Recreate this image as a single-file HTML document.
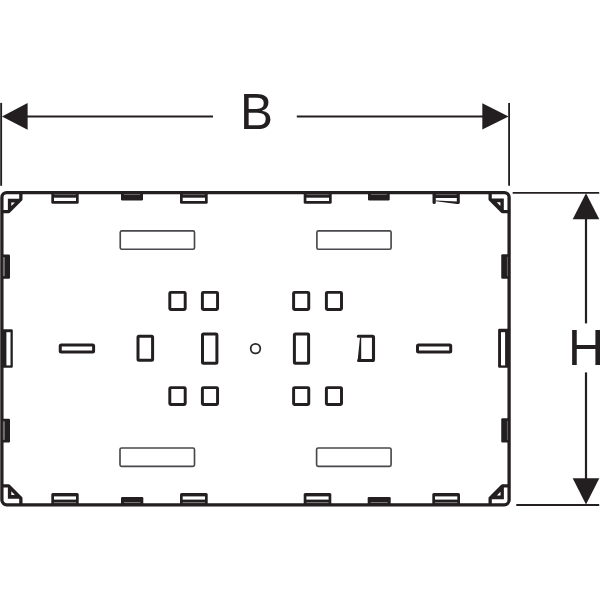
<!DOCTYPE html>
<html><head><meta charset="utf-8"><style>
html,body{margin:0;padding:0;background:#fff;width:600px;height:600px;overflow:hidden}
svg{display:block}
</style></head><body>
<svg width="600" height="600" viewBox="0 0 600 600">
<line x1="1.15" y1="102.9" x2="1.15" y2="185.8" stroke="#231f20" stroke-width="1.9"/>
<line x1="509.1" y1="102.9" x2="509.1" y2="185.8" stroke="#231f20" stroke-width="1.85"/>
<line x1="27" y1="116.4" x2="213" y2="116.4" stroke="#231f20" stroke-width="2"/>
<line x1="296.8" y1="116.4" x2="483" y2="116.4" stroke="#231f20" stroke-width="2"/>
<polygon points="2,116.4 27.6,103 27.6,129.7" fill="#231f20"/>
<polygon points="508.6,116.4 482.3,103.2 482.3,129.6" fill="#231f20"/>
<line x1="512.7" y1="192.9" x2="599.2" y2="192.9" stroke="#231f20" stroke-width="1.8"/>
<line x1="516.3" y1="505" x2="599.2" y2="505" stroke="#231f20" stroke-width="1.8"/>
<line x1="586" y1="218" x2="586" y2="323.4" stroke="#231f20" stroke-width="2.2"/>
<line x1="586" y1="372.4" x2="586" y2="480" stroke="#231f20" stroke-width="2.2"/>
<polygon points="586,193.2 572.7,219.3 599.3,219.3" fill="#231f20"/>
<polygon points="586,504.5 572.7,478.3 599.3,478.3" fill="#231f20"/>
<rect x="1.9" y="192.6" width="507.20000000000005" height="312.25" rx="4.8" ry="4.8" fill="none" stroke="#231f20" stroke-width="3.3"/>
<g transform="translate(1.9,192.6) scale(1,1)"><path d="M18.95,0 V6.75 L6.75,18.95 H0" fill="none" stroke="#231f20" stroke-width="3.3" stroke-linejoin="round"/><polygon points="6.0,6.1 19.6,6.1 6.0,19.7" fill="#231f20"/><polygon points="9.4,9.9 13.0,9.9 9.4,13.5" fill="#fff"/></g>
<g transform="translate(509.1,192.6) scale(-1,1)"><path d="M18.95,0 V6.75 L6.75,18.95 H0" fill="none" stroke="#231f20" stroke-width="3.3" stroke-linejoin="round"/><polygon points="5.3,5.8999999999999995 19.8,5.8999999999999995 5.3,20.4" fill="#231f20"/><polygon points="8.700000000000001,9.700000000000001 12.3,9.700000000000001 8.700000000000001,13.3" fill="#fff"/></g>
<g transform="translate(1.9,504.85) scale(1,-1)"><path d="M18.95,0 V6.75 L6.75,18.95 H0" fill="none" stroke="#231f20" stroke-width="3.3" stroke-linejoin="round"/><polygon points="6.0,6.1 19.6,6.1 6.0,19.7" fill="#231f20"/><polygon points="9.4,9.9 13.0,9.9 9.4,13.5" fill="#fff"/></g>
<g transform="translate(509.1,504.85) scale(-1,-1)"><path d="M18.95,0 V6.75 L6.75,18.95 H0" fill="none" stroke="#231f20" stroke-width="3.3" stroke-linejoin="round"/><polygon points="5.2,5.6 20.1,5.6 5.2,20.5" fill="#231f20"/><polygon points="8.6,9.4 12.2,9.4 8.6,13.0" fill="#fff"/></g>
<path d="M51.3,193 H78.7 V202.2 Q78.7,203.7 77.2,203.7 H52.8 Q51.3,203.7 51.3,202.2 Z" fill="#231f20"/>
<rect x="54.0" y="197.7" width="22.000000000000007" height="3.3" fill="#fff"/>
<rect x="54.199999999999996" y="194.2" width="21.600000000000005" height="0.9" fill="#6a6a6a"/>
<path d="M180,193 H207.7 V202.2 Q207.7,203.7 206.2,203.7 H181.5 Q180,203.7 180,202.2 Z" fill="#231f20"/>
<rect x="182.7" y="197.7" width="22.29999999999999" height="3.3" fill="#fff"/>
<rect x="182.9" y="194.2" width="21.899999999999988" height="0.9" fill="#6a6a6a"/>
<path d="M303.7,193 H331.7 V202.2 Q331.7,203.7 330.2,203.7 H305.2 Q303.7,203.7 303.7,202.2 Z" fill="#231f20"/>
<rect x="306.4" y="197.7" width="22.6" height="3.3" fill="#fff"/>
<rect x="306.59999999999997" y="194.2" width="22.2" height="0.9" fill="#6a6a6a"/>
<path d="M432.5,193 H459.8 V202.4 Q459.8,203.9 458.3,203.9 H456.8 V197.9 H435.8 V202.4 Q435.8,203.9 434.15,203.9 Q432.5,203.9 432.5,202.4 Z" fill="#231f20"/>
<rect x="436.0" y="194.2" width="20.600000000000012" height="0.9" fill="#6a6a6a"/>
<polygon points="436,200.6 457,201.6 457,204 436,201.2" fill="#231f20"/>
<path d="M121,193 H143 V199.3 Q143,200.5 141.8,200.5 H122.2 Q121,200.5 121,199.3 Z" fill="#231f20"/>
<rect x="124" y="194" width="16" height="1" fill="#666"/>
<path d="M368,193 H389.7 V199.3 Q389.7,200.5 388.5,200.5 H369.2 Q368,200.5 368,199.3 Z" fill="#231f20"/>
<rect x="371" y="194" width="15.699999999999989" height="1" fill="#666"/>
<path d="M51.3,504 H78.7 V494.5 Q78.7,493 77.2,493 H52.8 Q51.3,493 51.3,494.5 Z" fill="#231f20"/>
<rect x="54.0" y="496.4" width="22.000000000000007" height="3.2" fill="#fff"/>
<rect x="54.0" y="502" width="22.000000000000007" height="1.1" fill="#777"/>
<path d="M180,504 H207.7 V494.5 Q207.7,493 206.2,493 H181.5 Q180,493 180,494.5 Z" fill="#231f20"/>
<rect x="182.7" y="496.4" width="22.29999999999999" height="3.2" fill="#fff"/>
<rect x="182.7" y="502" width="22.29999999999999" height="1.1" fill="#777"/>
<path d="M303.7,504 H331.3 V494.5 Q331.3,493 329.8,493 H305.2 Q303.7,493 303.7,494.5 Z" fill="#231f20"/>
<rect x="306.4" y="496.4" width="22.200000000000024" height="3.2" fill="#fff"/>
<rect x="306.4" y="502" width="22.200000000000024" height="1.1" fill="#777"/>
<path d="M432.3,504 H460 V494.5 Q460,493 458.5,493 H433.8 Q432.3,493 432.3,494.5 Z" fill="#231f20"/>
<rect x="435.0" y="496.4" width="22.29999999999999" height="3.2" fill="#fff"/>
<rect x="435.0" y="502" width="22.29999999999999" height="1.1" fill="#777"/>
<path d="M121,504 H143.3 V498.2 Q143.3,497 142.10000000000002,497 H122.2 Q121,497 121,498.2 Z" fill="#231f20"/>
<rect x="124" y="502" width="16.30000000000001" height="1" fill="#777"/>
<path d="M367.7,504 H390.7 V498.2 Q390.7,497 389.5,497 H368.9 Q367.7,497 367.7,498.2 Z" fill="#231f20"/>
<rect x="370.7" y="502" width="17.0" height="1" fill="#777"/>
<path d="M3,254.6 H8.8 Q10,254.6 10,255.79999999999998 V277.55 Q10,278.75 8.8,278.75 H3 Z" fill="#231f20"/>
<rect x="2.9" y="257.2" width="2" height="18.950000000000006" fill="#707074"/>
<path d="M3,418.75 H8.8 Q10,418.75 10,419.95 V441.3 Q10,442.5 8.8,442.5 H3 Z" fill="#231f20"/>
<rect x="2.9" y="421.35" width="2" height="18.55" fill="#707074"/>
<path d="M3,329.25 H11.5 Q12.8,329.25 12.8,330.55 V366.45 Q12.8,367.75 11.5,367.75 H3 Z" fill="#231f20"/>
<rect x="6.4" y="332.2" width="4.1" height="33.2" fill="#fff"/>
<path d="M508,254.2 H502.45 Q501.25,254.2 501.25,255.39999999999998 V277.55 Q501.25,278.75 502.45,278.75 H508 Z" fill="#231f20"/>
<rect x="506.9" y="256.8" width="1" height="19.350000000000012" fill="#646468"/>
<path d="M508,418.3 H502.45 Q501.25,418.3 501.25,419.5 V441.3 Q501.25,442.5 502.45,442.5 H508 Z" fill="#231f20"/>
<rect x="506.9" y="420.90000000000003" width="1" height="18.99999999999999" fill="#646468"/>
<path d="M508,328.7 H499.4 Q498.1,328.7 498.1,330.0 V366.45 Q498.1,367.75 499.4,367.75 H508 Z" fill="#231f20"/>
<rect x="501" y="332.2" width="4.1" height="33.2" fill="#fff"/>
<rect x="120.25" y="230.9" width="74.25" height="18.349999999999994" rx="1.6" fill="none" stroke="#48484d" stroke-width="1.65"/>
<rect x="316.9" y="230.9" width="74.20000000000005" height="18.349999999999994" rx="1.6" fill="none" stroke="#48484d" stroke-width="1.65"/>
<rect x="120" y="448" width="74.5" height="18.399999999999977" rx="1.6" fill="none" stroke="#48484d" stroke-width="1.65"/>
<rect x="316.6" y="448" width="74.5" height="18.399999999999977" rx="1.6" fill="none" stroke="#48484d" stroke-width="1.65"/>
<rect x="169.8" y="292.35" width="15.399999999999977" height="17.099999999999966" rx="1" fill="none" stroke="#231f20" stroke-width="2.95"/>
<rect x="169.8" y="387.6" width="15.399999999999977" height="16.799999999999955" rx="1" fill="none" stroke="#231f20" stroke-width="2.95"/>
<rect x="202.4" y="292.35" width="15.150000000000006" height="17.099999999999966" rx="1" fill="none" stroke="#231f20" stroke-width="2.95"/>
<rect x="202.4" y="387.6" width="15.150000000000006" height="16.799999999999955" rx="1" fill="none" stroke="#231f20" stroke-width="2.95"/>
<rect x="293.6" y="292.35" width="15.149999999999977" height="17.099999999999966" rx="1" fill="none" stroke="#231f20" stroke-width="2.95"/>
<rect x="293.6" y="387.6" width="15.149999999999977" height="16.799999999999955" rx="1" fill="none" stroke="#231f20" stroke-width="2.95"/>
<rect x="326.4" y="292.35" width="15.100000000000023" height="17.099999999999966" rx="1" fill="none" stroke="#231f20" stroke-width="2.95"/>
<rect x="326.4" y="387.6" width="15.100000000000023" height="16.799999999999955" rx="1" fill="none" stroke="#231f20" stroke-width="2.95"/>
<rect x="60.25" y="345.1" width="33.349999999999994" height="6.8" rx="1" fill="none" stroke="#231f20" stroke-width="3"/>
<rect x="417.5" y="345.1" width="33.19999999999999" height="6.8" rx="1" fill="none" stroke="#231f20" stroke-width="3"/>
<rect x="138" y="336.2" width="14.6" height="24.1" rx="1" fill="none" stroke="#231f20" stroke-width="3"/>
<rect x="202.5" y="334" width="14.4" height="29.25" rx="1" fill="none" stroke="#231f20" stroke-width="3"/>
<rect x="294.4" y="334" width="14.2" height="29.25" rx="1" fill="none" stroke="#231f20" stroke-width="3"/>
<path d="M358.3,336.3 H372.5 Q373.5,336.3 373.5,337.3 V359.5 Q373.5,360.5 372.5,360.5 H358.7" fill="none" stroke="#231f20" stroke-width="3.1" stroke-linecap="round"/>
<polygon points="360,337.5 361.2,337.5 361.2,361.5 357.5,361.5" fill="#231f20"/>
<circle cx="255.5" cy="348.6" r="4.8" fill="none" stroke="#2e2b2c" stroke-width="1.8"/>
<text x="240" y="129" style="font-family:&quot;Liberation Sans&quot;,sans-serif" font-size="49.5" fill="#231f20">B</text>
<text x="568" y="364.8" style="font-family:&quot;Liberation Sans&quot;,sans-serif" font-size="50" fill="#231f20">H</text>
</svg>
</body></html>
